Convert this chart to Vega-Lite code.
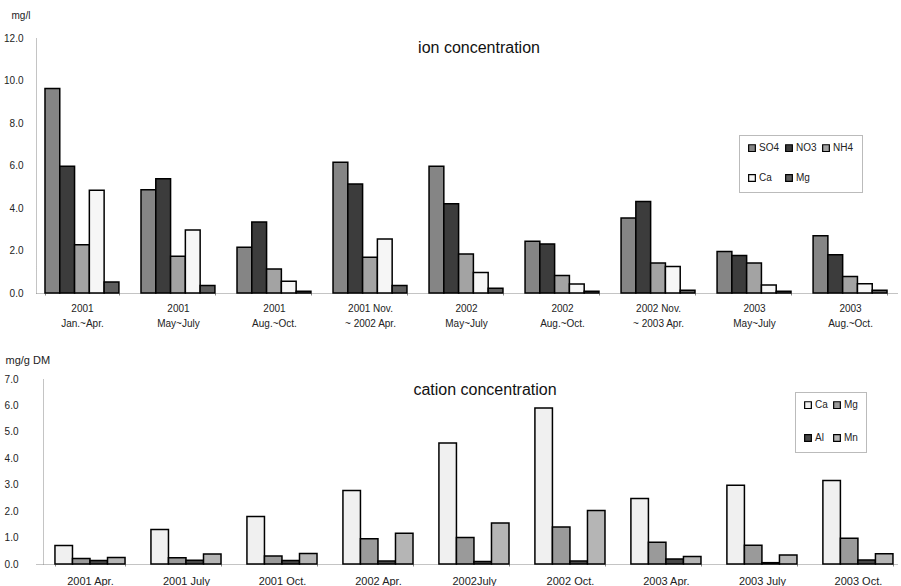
{
  "$schema": "https://vega.github.io/schema/vega-lite/v6.json",
  "background": "white",
  "padding": {"left": 3, "top": 10, "right": 0, "bottom": 0},
  "spacing": 26,
  "columns": 1,
  "align": "none",
  "resolve": {"scale": {"fill": "independent", "x": "independent", "xOffset": "independent", "y": "independent"}, "legend": {"fill": "independent"}},
  "config": {
    "view": {"stroke": null},
    "font": "Liberation Sans",
    "axis": {
      "domainColor": "#888",
      "domainDash": [1, 1],
      "domainWidth": 1,
      "labelColor": "#222",
      "labelFontSize": 10,
      "titleFontSize": 10,
      "titleFontWeight": "normal",
      "titleColor": "#222",
      "grid": false
    },
    "legend": {
      "orient": "none",
      "title": null,
      "direction": "horizontal",
      "symbolType": "square",
      "symbolSize": 45,
      "symbolStrokeColor": "black",
      "symbolStrokeWidth": 1.2,
      "labelFontSize": 10,
      "labelColor": "#222",
      "labelOffset": 2,
      "strokeColor": "#777",
      "strokeDash": [1, 1],
      "fillColor": "white",
      "padding": 8
    }
  },
  "datasets": {
    "ions": [
      {"period": "2001|Jan.~Apr.", "ion": "SO4", "value": 9.62},
      {"period": "2001|Jan.~Apr.", "ion": "NO3", "value": 5.96},
      {"period": "2001|Jan.~Apr.", "ion": "NH4", "value": 2.27},
      {"period": "2001|Jan.~Apr.", "ion": "Ca", "value": 4.83},
      {"period": "2001|Jan.~Apr.", "ion": "Mg", "value": 0.52},
      {"period": "2001|May~July", "ion": "SO4", "value": 4.86},
      {"period": "2001|May~July", "ion": "NO3", "value": 5.38},
      {"period": "2001|May~July", "ion": "NH4", "value": 1.73},
      {"period": "2001|May~July", "ion": "Ca", "value": 2.96},
      {"period": "2001|May~July", "ion": "Mg", "value": 0.35},
      {"period": "2001|Aug.~Oct.", "ion": "SO4", "value": 2.15},
      {"period": "2001|Aug.~Oct.", "ion": "NO3", "value": 3.34},
      {"period": "2001|Aug.~Oct.", "ion": "NH4", "value": 1.13},
      {"period": "2001|Aug.~Oct.", "ion": "Ca", "value": 0.55},
      {"period": "2001|Aug.~Oct.", "ion": "Mg", "value": 0.08},
      {"period": "2001 Nov.|~ 2002 Apr.", "ion": "SO4", "value": 6.15},
      {"period": "2001 Nov.|~ 2002 Apr.", "ion": "NO3", "value": 5.13},
      {"period": "2001 Nov.|~ 2002 Apr.", "ion": "NH4", "value": 1.68},
      {"period": "2001 Nov.|~ 2002 Apr.", "ion": "Ca", "value": 2.54},
      {"period": "2001 Nov.|~ 2002 Apr.", "ion": "Mg", "value": 0.35},
      {"period": "2002|May~July", "ion": "SO4", "value": 5.96},
      {"period": "2002|May~July", "ion": "NO3", "value": 4.2},
      {"period": "2002|May~July", "ion": "NH4", "value": 1.84},
      {"period": "2002|May~July", "ion": "Ca", "value": 0.97},
      {"period": "2002|May~July", "ion": "Mg", "value": 0.22},
      {"period": "2002|Aug.~Oct.", "ion": "SO4", "value": 2.43},
      {"period": "2002|Aug.~Oct.", "ion": "NO3", "value": 2.31},
      {"period": "2002|Aug.~Oct.", "ion": "NH4", "value": 0.82},
      {"period": "2002|Aug.~Oct.", "ion": "Ca", "value": 0.42},
      {"period": "2002|Aug.~Oct.", "ion": "Mg", "value": 0.08},
      {"period": "2002 Nov.|~ 2003 Apr.", "ion": "SO4", "value": 3.53},
      {"period": "2002 Nov.|~ 2003 Apr.", "ion": "NO3", "value": 4.31},
      {"period": "2002 Nov.|~ 2003 Apr.", "ion": "NH4", "value": 1.41},
      {"period": "2002 Nov.|~ 2003 Apr.", "ion": "Ca", "value": 1.25},
      {"period": "2002 Nov.|~ 2003 Apr.", "ion": "Mg", "value": 0.13},
      {"period": "2003|May~July", "ion": "SO4", "value": 1.95},
      {"period": "2003|May~July", "ion": "NO3", "value": 1.76},
      {"period": "2003|May~July", "ion": "NH4", "value": 1.41},
      {"period": "2003|May~July", "ion": "Ca", "value": 0.38},
      {"period": "2003|May~July", "ion": "Mg", "value": 0.08},
      {"period": "2003|Aug.~Oct.", "ion": "SO4", "value": 2.7},
      {"period": "2003|Aug.~Oct.", "ion": "NO3", "value": 1.8},
      {"period": "2003|Aug.~Oct.", "ion": "NH4", "value": 0.78},
      {"period": "2003|Aug.~Oct.", "ion": "Ca", "value": 0.44},
      {"period": "2003|Aug.~Oct.", "ion": "Mg", "value": 0.13}
    ],
    "cations": [
      {"period": "2001 Apr.", "cation": "Ca", "value": 0.70},
      {"period": "2001 Apr.", "cation": "Mg", "value": 0.21},
      {"period": "2001 Apr.", "cation": "Al", "value": 0.13},
      {"period": "2001 Apr.", "cation": "Mn", "value": 0.25},
      {"period": "2001 July", "cation": "Ca", "value": 1.31},
      {"period": "2001 July", "cation": "Mg", "value": 0.24},
      {"period": "2001 July", "cation": "Al", "value": 0.14},
      {"period": "2001 July", "cation": "Mn", "value": 0.38},
      {"period": "2001 Oct.", "cation": "Ca", "value": 1.80},
      {"period": "2001 Oct.", "cation": "Mg", "value": 0.30},
      {"period": "2001 Oct.", "cation": "Al", "value": 0.13},
      {"period": "2001 Oct.", "cation": "Mn", "value": 0.40},
      {"period": "2002 Apr.", "cation": "Ca", "value": 2.78},
      {"period": "2002 Apr.", "cation": "Mg", "value": 0.96},
      {"period": "2002 Apr.", "cation": "Al", "value": 0.11},
      {"period": "2002 Apr.", "cation": "Mn", "value": 1.16},
      {"period": "2002July", "cation": "Ca", "value": 4.58},
      {"period": "2002July", "cation": "Mg", "value": 1.0},
      {"period": "2002July", "cation": "Al", "value": 0.09},
      {"period": "2002July", "cation": "Mn", "value": 1.55},
      {"period": "2002 Oct.", "cation": "Ca", "value": 5.9},
      {"period": "2002 Oct.", "cation": "Mg", "value": 1.40},
      {"period": "2002 Oct.", "cation": "Al", "value": 0.11},
      {"period": "2002 Oct.", "cation": "Mn", "value": 2.02},
      {"period": "2003 Apr.", "cation": "Ca", "value": 2.48},
      {"period": "2003 Apr.", "cation": "Mg", "value": 0.82},
      {"period": "2003 Apr.", "cation": "Al", "value": 0.19},
      {"period": "2003 Apr.", "cation": "Mn", "value": 0.28},
      {"period": "2003 July", "cation": "Ca", "value": 2.98},
      {"period": "2003 July", "cation": "Mg", "value": 0.71},
      {"period": "2003 July", "cation": "Al", "value": 0.05},
      {"period": "2003 July", "cation": "Mn", "value": 0.34},
      {"period": "2003 Oct.", "cation": "Ca", "value": 3.16},
      {"period": "2003 Oct.", "cation": "Mg", "value": 0.97},
      {"period": "2003 Oct.", "cation": "Al", "value": 0.15},
      {"period": "2003 Oct.", "cation": "Mn", "value": 0.39}
    ]
  },
  "concat": [
    {
      "width": 862,
      "height": 255,
      "data": {"name": "ions"},
      "title": {"text": "ion concentration", "fontSize": 16, "fontWeight": "normal", "font": "Liberation Sans", "color": "#111", "anchor": "middle", "frame": "group", "dx": 12, "dy": 50},
      "mark": {"type": "bar", "stroke": "black", "strokeWidth": 1.5},
      "encoding": {
        "x": {
          "field": "period", "type": "nominal", "sort": null,
          "scale": {"paddingInner": 0.23, "paddingOuter": 0.104, "align": 0.45},
          "axis": {"title": null, "labelAngle": 0, "labelExpr": "datum.value ? split(datum.value, '|') : ''", "labelPadding": 8, "labelLineHeight": 15, "ticks": true, "tickBand": "extent", "tickSize": 2, "tickColor": "#888"}
        },
        "xOffset": {"field": "ion", "type": "nominal", "sort": ["SO4", "NO3", "NH4", "Ca", "Mg"], "scale": {"domain": ["SO4", "NO3", "NH4", "Ca", "Mg"], "paddingInner": 0, "paddingOuter": 0}},
        "y": {
          "field": "value", "type": "quantitative",
          "scale": {"domain": [0, 12]},
          "axis": {"values": [0, 2, 4, 6, 8, 10, 12], "format": ".1f", "ticks": false, "labelPadding": 13, "title": "mg/l", "titleAngle": 0, "titleAlign": "left", "titleBaseline": "middle", "titleX": -25, "titleY": -23}
        },
        "fill": {
          "field": "ion", "type": "nominal",
          "scale": {"domain": ["SO4", "NO3", "NH4", "Ca", "Mg"], "range": ["#858585", "#3c3c3c", "#a3a3a3", "#f6f6f6", "#5e5e5e"]},
          "legend": {"legendX": 703, "legendY": 97, "columns": 3, "columnPadding": 3, "rowPadding": 18}
        }
      }
    },
    {
      "width": 862,
      "height": 185,
      "data": {"name": "cations"},
      "title": {"text": "cation concentration", "fontSize": 16, "fontWeight": "normal", "font": "Liberation Sans", "color": "#111", "anchor": "middle", "frame": "group", "dx": 18, "dy": 48},
      "mark": {"type": "bar", "stroke": "black", "strokeWidth": 1.5},
      "encoding": {
        "x": {
          "field": "period", "type": "nominal", "sort": null,
          "scale": {"paddingInner": 0.27, "paddingOuter": 0.125, "align": 0.79},
          "axis": {"title": null, "labelAngle": 0, "labelFontSize": 11, "labelExpr": "datum.value ? datum.value : ''", "labelPadding": 9, "ticks": true, "tickBand": "extent", "tickSize": 2, "tickColor": "#888"}
        },
        "xOffset": {"field": "cation", "type": "nominal", "sort": ["Ca", "Mg", "Al", "Mn"], "scale": {"domain": ["Ca", "Mg", "Al", "Mn"], "paddingInner": 0, "paddingOuter": 0}},
        "y": {
          "field": "value", "type": "quantitative",
          "scale": {"domain": [0, 7]},
          "axis": {"values": [0, 1, 2, 3, 4, 5, 6, 7], "format": ".1f", "ticks": false, "offset": -7, "labelPadding": 25, "title": "mg/g DM", "titleFontSize": 11, "titleAngle": 0, "titleAlign": "left", "titleBaseline": "middle", "titleX": -38, "titleY": -19}
        },
        "fill": {
          "field": "cation", "type": "nominal",
          "scale": {"domain": ["Ca", "Mg", "Al", "Mn"], "range": ["#f0f0f0", "#9a9a9a", "#474747", "#b5b5b5"]},
          "legend": {"legendX": 759, "legendY": 13, "columns": 2, "columnPadding": 3, "rowPadding": 21}
        }
      }
    }
  ]
}
